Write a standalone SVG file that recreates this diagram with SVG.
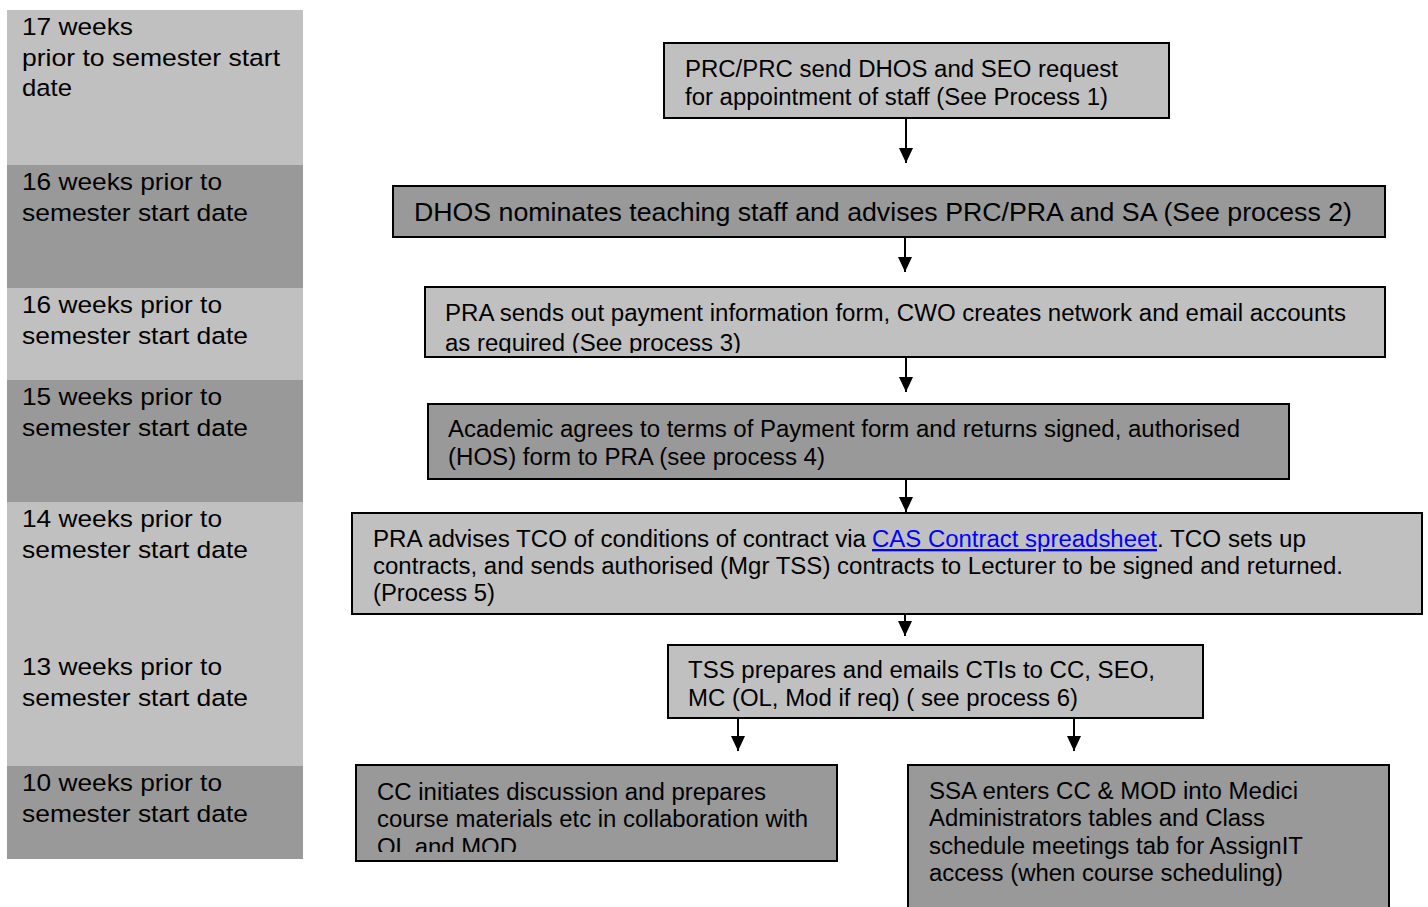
<svg xmlns="http://www.w3.org/2000/svg" width="1428" height="907" viewBox="0 0 1428 907">
<style>
.band-l{fill:#c0c0c0}
.band-d{fill:#999999}
.lt{font-family:"Liberation Sans",Arial,sans-serif;font-size:24.5px;fill:#000}
.bx-l{fill:#c0c0c0;stroke:#000;stroke-width:2}
.bx-d{fill:#999999;stroke:#000;stroke-width:2}
.bt{font-family:"Liberation Sans",Arial,sans-serif;font-size:23px;fill:#000}
.link{fill:#0000ff;text-decoration:underline}
.conn{stroke:#000;stroke-width:2;fill:none}
</style>
<defs>
<marker id="ah" viewBox="0 0 15 14" refX="15" refY="7" markerWidth="15" markerHeight="14" markerUnits="userSpaceOnUse" orient="auto">
<path d="M0,0 L15,7 L0,14 z" fill="#000"/>
</marker>
<clipPath id="c3"><rect x="425" y="287" width="960" height="66"/></clipPath>
<clipPath id="c7"><rect x="356" y="765" width="481" height="87"/></clipPath>
</defs>
<rect width="1428" height="907" fill="#fff"/>
<g id="timeline">
<g id="t17"><rect class="band-l" x="7" y="10" width="296" height="155"/>
<text class="lt" x="22" y="35" textLength="111" lengthAdjust="spacingAndGlyphs">17 weeks</text><text class="lt" x="22" y="66" textLength="258" lengthAdjust="spacingAndGlyphs">prior to semester start</text><text class="lt" x="22" y="96" textLength="50" lengthAdjust="spacingAndGlyphs">date</text></g>
<g id="t16a"><rect class="band-d" x="7" y="165" width="296" height="123"/>
<text class="lt" x="22" y="190" textLength="200" lengthAdjust="spacingAndGlyphs">16 weeks prior to</text><text class="lt" x="22" y="221" textLength="226" lengthAdjust="spacingAndGlyphs">semester start date</text></g>
<g id="t16b"><rect class="band-l" x="7" y="288" width="296" height="92"/>
<text class="lt" x="22" y="313" textLength="200" lengthAdjust="spacingAndGlyphs">16 weeks prior to</text><text class="lt" x="22" y="344" textLength="226" lengthAdjust="spacingAndGlyphs">semester start date</text></g>
<g id="t15"><rect class="band-d" x="7" y="380" width="296" height="122"/>
<text class="lt" x="22" y="405" textLength="200" lengthAdjust="spacingAndGlyphs">15 weeks prior to</text><text class="lt" x="22" y="436" textLength="226" lengthAdjust="spacingAndGlyphs">semester start date</text></g>
<g id="t14"><rect class="band-l" x="7" y="502" width="296" height="148"/>
<text class="lt" x="22" y="527" textLength="200" lengthAdjust="spacingAndGlyphs">14 weeks prior to</text><text class="lt" x="22" y="558" textLength="226" lengthAdjust="spacingAndGlyphs">semester start date</text></g>
<g id="t13"><rect class="band-l" x="7" y="650" width="296" height="116"/>
<text class="lt" x="22" y="675" textLength="200" lengthAdjust="spacingAndGlyphs">13 weeks prior to</text><text class="lt" x="22" y="706" textLength="226" lengthAdjust="spacingAndGlyphs">semester start date</text></g>
<g id="t10"><rect class="band-d" x="7" y="766" width="296" height="93"/>
<text class="lt" x="22" y="791" textLength="200" lengthAdjust="spacingAndGlyphs">10 weeks prior to</text><text class="lt" x="22" y="822" textLength="226" lengthAdjust="spacingAndGlyphs">semester start date</text></g>
</g>
<g id="connectors">
<line class="conn" x1="906" y1="118" x2="906" y2="163" marker-end="url(#ah)"/>
<line class="conn" x1="905" y1="237" x2="905" y2="272" marker-end="url(#ah)"/>
<line class="conn" x1="906" y1="357" x2="906" y2="392" marker-end="url(#ah)"/>
<line class="conn" x1="906" y1="479" x2="906" y2="512" marker-end="url(#ah)"/>
<line class="conn" x1="905" y1="614" x2="905" y2="636" marker-end="url(#ah)"/>
<line class="conn" x1="738" y1="718" x2="738" y2="751" marker-end="url(#ah)"/>
<line class="conn" x1="1074" y1="718" x2="1074" y2="751" marker-end="url(#ah)"/>
</g>
<g id="n1"><rect class="bx-l" x="664" y="43" width="505" height="75"/>
<text class="bt" x="685" y="77" textLength="433" lengthAdjust="spacingAndGlyphs">PRC/PRC send DHOS and SEO request</text>
<text class="bt" x="685" y="105" textLength="423" lengthAdjust="spacingAndGlyphs">for appointment of staff (See Process 1)</text></g>
<g id="n2"><rect class="bx-d" x="393" y="186" width="992" height="51"/>
<text class="bt" x="414" y="221" style="font-size:25px" textLength="938" lengthAdjust="spacingAndGlyphs">DHOS nominates teaching staff and advises PRC/PRA and SA (See process 2)</text></g>
<g id="n3"><rect class="bx-l" x="425" y="287" width="960" height="70"/>
<g clip-path="url(#c3)">
<text class="bt" x="445" y="321" textLength="901" lengthAdjust="spacingAndGlyphs">PRA sends out payment information form, CWO creates network and email accounts</text>
<text class="bt" x="445" y="351" textLength="296" lengthAdjust="spacingAndGlyphs">as required (See process 3)</text></g></g>
<g id="n4"><rect class="bx-d" x="428" y="404" width="861" height="75"/>
<text class="bt" x="448" y="437" textLength="792" lengthAdjust="spacingAndGlyphs">Academic agrees to terms of Payment form and returns signed, authorised</text>
<text class="bt" x="448" y="465" textLength="377" lengthAdjust="spacingAndGlyphs">(HOS) form to PRA (see process 4)</text></g>
<g id="n5"><rect class="bx-l" x="352" y="513" width="1070" height="101"/>
<text class="bt" x="373" y="547" textLength="493" lengthAdjust="spacingAndGlyphs">PRA advises TCO of conditions of contract via</text>
<text class="bt link" x="872" y="547" textLength="285" lengthAdjust="spacingAndGlyphs">CAS Contract spreadsheet</text>
<text class="bt" x="1157" y="547" textLength="149" lengthAdjust="spacingAndGlyphs">. TCO sets up</text>
<text class="bt" x="373" y="574" textLength="970" lengthAdjust="spacingAndGlyphs">contracts, and sends authorised (Mgr TSS) contracts to Lecturer to be signed and returned.</text>
<text class="bt" x="373" y="601" textLength="122" lengthAdjust="spacingAndGlyphs">(Process 5)</text></g>
<g id="n6"><rect class="bx-l" x="668" y="645" width="535" height="73"/>
<text class="bt" x="688" y="678" textLength="467" lengthAdjust="spacingAndGlyphs">TSS prepares and emails CTIs to CC, SEO,</text>
<text class="bt" x="688" y="706" textLength="390" lengthAdjust="spacingAndGlyphs">MC (OL, Mod if req) ( see process 6)</text></g>
<g id="n7"><rect class="bx-d" x="356" y="765" width="481" height="96"/>
<g clip-path="url(#c7)">
<text class="bt" x="377" y="800" textLength="389" lengthAdjust="spacingAndGlyphs">CC initiates discussion and prepares</text>
<text class="bt" x="377" y="827" textLength="431" lengthAdjust="spacingAndGlyphs">course materials etc in collaboration with</text>
<text class="bt" x="377" y="855" textLength="140" lengthAdjust="spacingAndGlyphs">OL and MOD</text></g></g>
<g id="n8"><rect class="bx-d" x="908" y="765" width="481" height="150"/>
<text class="bt" x="929" y="799" textLength="369" lengthAdjust="spacingAndGlyphs">SSA enters CC &amp; MOD into Medici</text>
<text class="bt" x="929" y="826" textLength="336" lengthAdjust="spacingAndGlyphs">Administrators tables and Class</text>
<text class="bt" x="929" y="854" textLength="374" lengthAdjust="spacingAndGlyphs">schedule meetings tab for AssignIT</text>
<text class="bt" x="929" y="881" textLength="354" lengthAdjust="spacingAndGlyphs">access (when course scheduling)</text></g>
</svg>
